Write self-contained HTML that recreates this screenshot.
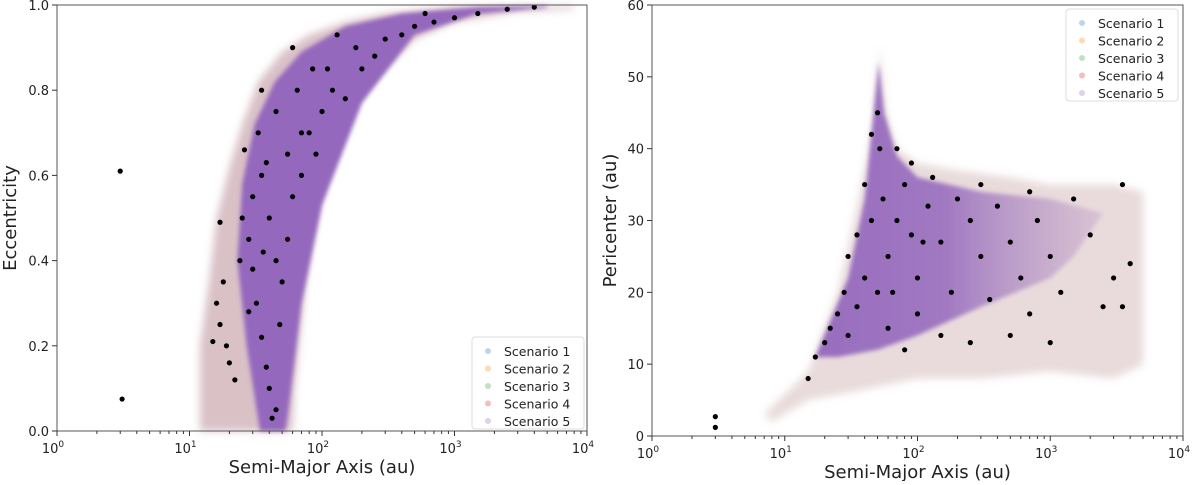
<!DOCTYPE html>
<html><head><meta charset="utf-8"><style>
body{margin:0;background:#fff;font-family:"DejaVu Sans","Liberation Sans",sans-serif}
svg text{font-family:"DejaVu Sans","Liberation Sans",sans-serif;fill:#222}
</style></head><body>
<svg id="chart" width="1200" height="481" viewBox="0 0 1200 481" xmlns="http://www.w3.org/2000/svg">
<defs>
<filter id="blur" x="-10%" y="-10%" width="120%" height="120%"><feGaussianBlur stdDeviation="4"/></filter>
<filter id="blur2"><feGaussianBlur stdDeviation="2"/></filter>
<linearGradient id="rcore" x1="0" x2="1" y1="0" y2="0">
<stop offset="0" stop-color="#9467bd" stop-opacity="0.95"/><stop offset="0.45" stop-color="#9467bd" stop-opacity="0.85"/><stop offset="1" stop-color="#b08cc0" stop-opacity="0.3"/></linearGradient>
</defs>
<g id="left"></g>
<g id="right"></g>
</svg>
<script>
// Left panel data
const leftHalo=[[12,0],[12,0.2],[14,0.35],[16,0.5],[20,0.62],[25,0.72],[33,0.82],[50,0.89],[80,0.93],[150,0.96],[300,0.98],[1000,0.995],[8000,0.998],[8000,0.99],[3000,0.985],[1000,0.96],[500,0.92],[200,0.8],[100,0.58],[75,0.35],[62,0.1],[60,0]];
const leftCore=[[34,0],[27,0.2],[23,0.4],[25,0.58],[31,0.72],[44,0.82],[70,0.89],[150,0.95],[400,0.98],[1500,0.995],[5000,0.998],[5000,0.994],[1500,0.98],[500,0.93],[200,0.77],[100,0.53],[70,0.3],[56,0.05],[53,0]];
const leftBlack=[[3,0.61],[3.1,0.075],[17,0.49],[18,0.35],[16,0.30],[17,0.25],[19,0.2],[15,0.21],[20,0.16],[22,0.12],[26,0.66],[25,0.5],[28,0.45],[30,0.38],[32,0.3],[35,0.22],[38,0.15],[40,0.1],[45,0.05],[42,0.03],[30,0.55],[35,0.6],[40,0.5],[45,0.4],[50,0.35],[48,0.25],[55,0.45],[60,0.55],[33,0.7],[45,0.75],[55,0.65],[70,0.6],[80,0.7],[90,0.65],[65,0.8],[100,0.75],[120,0.8],[150,0.78],[110,0.85],[200,0.85],[250,0.88],[180,0.9],[300,0.92],[400,0.93],[500,0.95],[700,0.96],[1000,0.97],[1500,0.98],[2500,0.99],[4000,0.995],[35,0.8],[60,0.9],[28,0.28],[24,0.4],[36,0.42],[70,0.7],[85,0.85],[130,0.93],[600,0.98],[38,0.63]];
const leftYTicks=[0,0.2,0.4,0.6,0.8,1.0];
// Right panel data
const rightHalo=[[7,3],[15,9],[25,20],[35,32],[45,42],[52,54],[58,45],[70,40],[100,38],[200,37],[500,36],[1000,35],[3000,35],[5000,34],[5000,10],[3000,8],[1000,9],[300,8],[100,8],[30,6],[15,5],[8,2]];
const rightCore=[[17,11],[30,22],[40,33],[51,52],[56,45],[70,39],[100,36],[300,34],[1000,33],[2500,31],[1500,25],[1000,22],[300,18],[100,14],[50,12],[25,11]];
const rightBlack=[[3,1.2],[3,2.7],[15,8],[17,11],[20,13],[22,15],[25,17],[28,20],[30,25],[35,28],[40,35],[45,42],[50,45],[52,40],[55,33],[45,30],[40,22],[35,18],[30,14],[60,25],[70,30],[80,35],[90,28],[100,22],[120,32],[150,27],[180,20],[200,33],[250,30],[300,25],[350,19],[400,32],[500,27],[600,22],[700,17],[800,30],[1000,25],[1200,20],[1500,33],[2000,28],[2500,18],[3000,22],[3500,35],[4000,24],[60,15],[80,12],[100,17],[150,14],[70,40],[90,38],[130,36],[250,13],[500,14],[1000,13],[3500,18],[50,20],[65,20],[110,27],[300,35],[700,34]];
const rightYTicks=[0,10,20,30,40,50,60];
const xDecades=[0,1,2,3,4];
const legendLabels=["Scenario 1","Scenario 2","Scenario 3","Scenario 4","Scenario 5"];
const legendColors=["#1f77b4","#ff7f0e","#2ca02c","#d62728","#9467bd"];

const NS="http://www.w3.org/2000/svg";
function mk(p,tag,attrs,txt){const e=document.createElementNS(NS,tag);for(const k in attrs)e.setAttribute(k,attrs[k]);if(txt!==undefined)e.textContent=txt;p.appendChild(e);return e;}

function panel(g,cfg){
  const {x0,x1,y0,y1,ymin,ymax}=cfg;
  const sx=a=>x0+(x1-x0)*Math.log10(a)/4;
  const sy=v=>y0-(y0-y1)*(v-ymin)/(ymax-ymin);
  const pts=arr=>arr.map(p=>sx(p[0]).toFixed(1)+","+sy(p[1]).toFixed(1)).join(" ");
  const halo=mk(g,"polygon",{points:pts(cfg.halo),fill:cfg.haloFill,"fill-opacity":cfg.haloOp,filter:"url(#blur)"});
  
  
  const core=mk(g,"polygon",{points:pts(cfg.core),fill:cfg.coreFill,filter:"url(#blur2)"});
  
  
  cfg.black.forEach(p=>{
    const c=mk(g,"circle",{cx:sx(p[0]),cy:sy(p[1]),r:2.6,fill:"#000"});
    
    
  });
  const fr=mk(g,"rect",{x:x0,y:y1,width:x1-x0,height:y0-y1,fill:"none",stroke:"#555","stroke-width":1});
  
  
  xDecades.forEach(d=>{
    const x=x0+(x1-x0)*d/4;
    mk(g,"line",{x1:x,x2:x,y1:y0,y2:y0+5,stroke:"#333"});
    const t=mk(g,"text",{x:x-4,y:y0+22,"font-size":13,"text-anchor":"middle"},"10");
    mk(t,"tspan",{dy:-6,"font-size":9},String(d));
    
    
    if(d<4)for(let m=2;m<10;m++){const xm=x0+(x1-x0)*(d+Math.log10(m))/4;mk(g,"line",{x1:xm,x2:xm,y1:y0,y2:y0+3,stroke:"#333"});}
  });
  cfg.yticks.forEach(v=>{
    const y=sy(v);
    mk(g,"line",{x1:x0-5,x2:x0,y1:y,y2:y,stroke:"#333"});
    const t=mk(g,"text",{x:x0-8,y:y+5,"font-size":13,"text-anchor":"end"},cfg.fmt(v));
    
    
  });
  const xt=mk(g,"text",{x:(x0+x1)/2,y:y0+42,"font-size":18,"text-anchor":"middle"},"Semi-Major Axis (au)");
  
  
  const yt=mk(g,"text",{x:0,y:0,"font-size":18,"text-anchor":"middle",transform:`translate(${cfg.ytx},${(y0+y1)/2}) rotate(-90)`},cfg.ytitle);
  
  
  const lg=mk(g,"g",{});
  
  
  mk(lg,"rect",{x:cfg.lx,y:cfg.ly,width:112,height:92,rx:3,fill:"#fff","fill-opacity":0.8,stroke:"#ddd"});
  legendLabels.forEach((l,i)=>{
    const e=mk(lg,"g",{});
    
    
    mk(e,"circle",{cx:cfg.lx+16,cy:cfg.ly+14+i*17.5,r:3,fill:legendColors[i],"fill-opacity":0.3});
    mk(e,"text",{x:cfg.lx+32,y:cfg.ly+19+i*17.5,"font-size":12.5},l);
  });
}
panel(document.getElementById("left"),{x0:57,x1:587,y0:431,y1:5,ymin:0,ymax:1,halo:leftHalo,core:leftCore,black:leftBlack,haloFill:"#c4a0a8",haloOp:0.65,coreFill:"#9467bd",yticks:leftYTicks,fmt:v=>v.toFixed(1),ytitle:"Eccentricity",ytx:16,lx:472,ly:337});
panel(document.getElementById("right"),{x0:652,x1:1183,y0:436,y1:5,ymin:0,ymax:60,halo:rightHalo,core:rightCore,black:rightBlack,haloFill:"#cfb0b0",haloOp:0.45,coreFill:"url(#rcore)",yticks:rightYTicks,fmt:v=>String(v),ytitle:"Pericenter (au)",ytx:616,lx:1066,ly:9});
</script>
</body></html>
